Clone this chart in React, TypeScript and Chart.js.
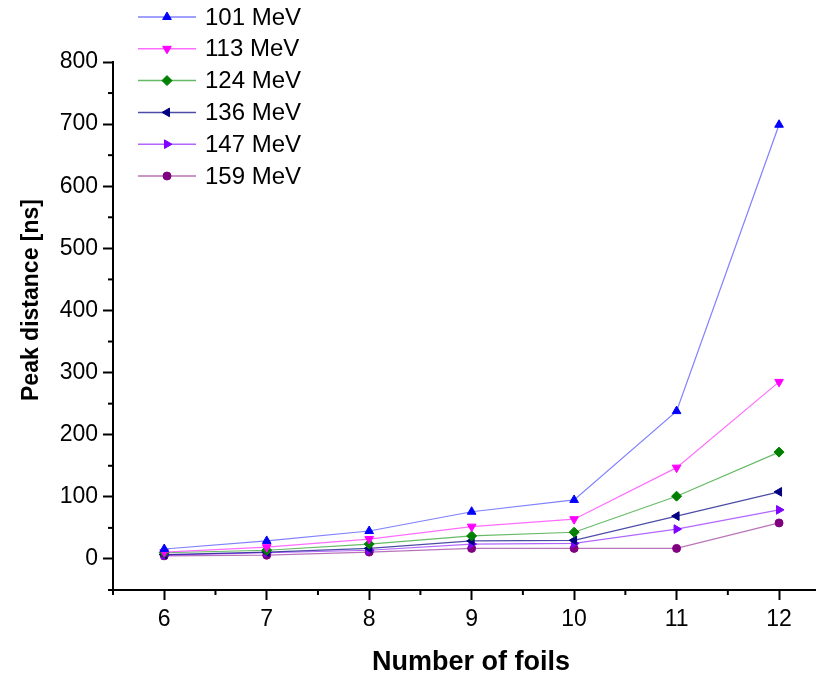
import React, { useEffect, useRef } from 'react';
import { Chart, registerables } from 'chart.js';
import { drawPoint } from 'chart.js/helpers';

Chart.register(...registerables);

// ---- data ----
const foils = [6, 7, 8, 9, 10, 11, 12];
const seriesNames = ['101 MeV', '113 MeV', '124 MeV', '136 MeV', '147 MeV', '159 MeV'];
const mev101 = [16, 29, 45, 76, 95, 238, 699];
const mev113 = [11, 19, 32, 52, 64, 147, 285];
const mev124 = [10, 14, 24, 37, 43, 101, 172];
const mev136 = [7, 11, 17, 29, 30, 69, 108];
const mev147 = [6, 10, 14, 24, 25, 48, 79];
const mev159 = [5, 6, 11, 17, 17, 17, 58];
const seriesValues = [mev101, mev113, mev124, mev136, mev147, mev159];
const xTickValues = [6, 7, 8, 9, 10, 11, 12];
const yTickValues = [0, 100, 200, 300, 400, 500, 600, 700, 800];
const xTitle = 'Number of foils';
const yTitle = 'Peak distance [ns]';

// ---- styles ----
const markerColors = ['#0000FF', '#FF00FF', '#008000', '#000080', '#8000FF', '#800080'];
const lineColors = [
  'rgba(60,60,255,0.65)',
  'rgba(255,60,255,0.75)',
  'rgba(0,140,0,0.6)',
  'rgba(0,0,128,0.7)',
  'rgba(128,0,255,0.6)',
  'rgba(128,0,128,0.55)',
];
const pointStyles = ['triangle', 'triangle', 'rectRot', 'triangle', 'triangle', 'circle'];
const rotations = [0, 180, 0, -90, 90, 0];
const radii = [5, 5, 5, 5, 5, 4];

const FONT = 'Arial, "Liberation Sans", sans-serif';

const decorPlugin = {
  id: 'decor',
  afterDraw(chart: any) {
    const ctx = chart.ctx as CanvasRenderingContext2D;
    const { left, bottom } = chart.chartArea;
    const xs = chart.scales.x;
    const ys = chart.scales.y;
    ctx.save();
    ctx.strokeStyle = '#000';
    ctx.lineWidth = 2;
    // minor ticks
    for (let v = xs.min; v <= xs.max + 1e-9; v += 1) {
      const px = xs.getPixelForValue(v);
      ctx.beginPath();
      ctx.moveTo(px, bottom);
      ctx.lineTo(px, bottom + 5);
      ctx.stroke();
    }
    for (let v = ys.min; v <= ys.max + 1e-9; v += 100) {
      const py = ys.getPixelForValue(v);
      ctx.beginPath();
      ctx.moveTo(left - 5, py);
      ctx.lineTo(left, py);
      ctx.stroke();
    }
    // axis titles
    ctx.fillStyle = '#000';
    ctx.textAlign = 'center';
    ctx.textBaseline = 'middle';
    ctx.font = `bold 23px ${FONT}`;
    ctx.save();
    ctx.translate(24, 292);
    ctx.rotate(-Math.PI / 2);
    ctx.fillText(yTitle, 0, 0);
    ctx.restore();
    ctx.font = `bold 27px ${FONT}`;
    ctx.fillText(xTitle, 463, 655);
    // legend
    ctx.textAlign = 'left';
    ctx.font = `24px ${FONT}`;
    chart.data.datasets.forEach((ds: any, i: number) => {
      const y = 9 + i * 31.8;
      ctx.strokeStyle = ds.borderColor;
      ctx.lineWidth = 1.5;
      ctx.beginPath();
      ctx.moveTo(130, y);
      ctx.lineTo(188, y);
      ctx.stroke();
      ctx.fillStyle = ds.pointBackgroundColor;
      ctx.strokeStyle = ds.pointBorderColor;
      ctx.lineWidth = 1;
      drawPoint(ctx, { pointStyle: ds.pointStyle, rotation: ds.pointRotation, radius: ds.pointRadius, borderWidth: 1 } as any, 159, y);
      ctx.fillStyle = '#000';
      ctx.fillText(ds.label, 197, y + 1);
    });
    ctx.restore();
  },
};

export default function App() {
  const ref = useRef<HTMLCanvasElement>(null);
  useEffect(() => {
    if (!ref.current) return;
    const datasets = seriesNames.map((name, i) => ({
      label: name,
      data: foils.map((f, j) => ({ x: f, y: seriesValues[i][j] })),
      borderColor: lineColors[i],
      borderWidth: 1.2,
      pointBackgroundColor: markerColors[i],
      pointBorderColor: markerColors[i],
      pointBorderWidth: 1,
      pointStyle: pointStyles[i],
      pointRotation: rotations[i],
      pointRadius: radii[i],
      fill: false,
      tension: 0,
    }));
    const chart = new Chart(ref.current, {
      type: 'line',
      data: { datasets },
      options: {
        animation: false,
        responsive: false,
        devicePixelRatio: 1,
        layout: { padding: { top: 54, right: 0, left: 0, bottom: 0 } },
        plugins: { legend: { display: false }, tooltip: { enabled: false } },
        scales: {
          x: {
            type: 'linear',
            min: 5.5,
            max: 12.38,
            afterFit: (s: any) => { s.height = 83; },
            afterBuildTicks: (s: any) => { s.ticks = xTickValues.map((v) => ({ value: v })); },
            ticks: { font: { size: 23, family: FONT }, color: '#000', padding: 6, includeBounds: false },
            grid: { drawOnChartArea: false, tickLength: 10, tickWidth: 2, color: '#000' },
            border: { color: '#000', width: 2 },
          },
          y: {
            type: 'linear',
            min: -50,
            max: 800,
            afterFit: (s: any) => { s.width = 105; },
            afterBuildTicks: (s: any) => { s.ticks = yTickValues.map((v) => ({ value: v })); },
            ticks: { font: { size: 23, family: FONT }, color: '#000', padding: 5, includeBounds: false },
            grid: { drawOnChartArea: false, tickLength: 10, tickWidth: 2, color: '#000' },
            border: { color: '#000', width: 2 },
          },
        },
      },
      plugins: [decorPlugin],
    } as any);
    return () => chart.destroy();
  }, []);
  return <canvas ref={ref} width={816} height={665} style={{ display: 'block', width: 816, height: 665 }} />;
}
